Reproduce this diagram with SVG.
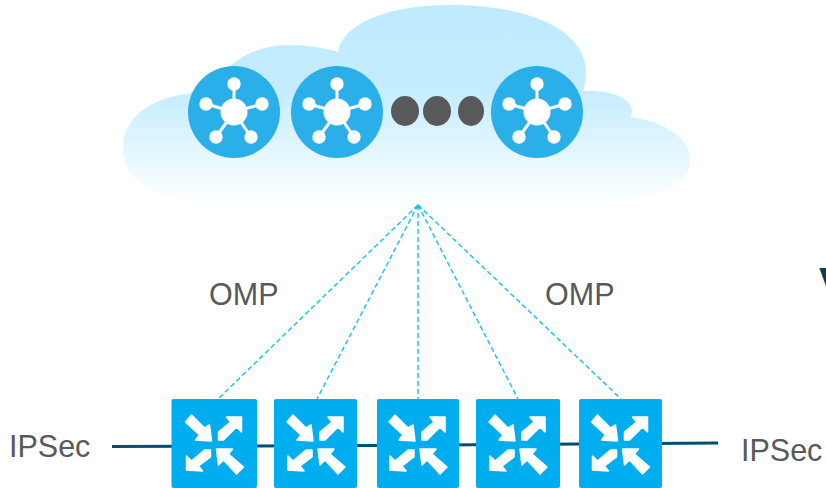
<svg xmlns="http://www.w3.org/2000/svg" width="826" height="488" viewBox="0 0 826 488">
<defs>
<linearGradient id="sky" gradientUnits="userSpaceOnUse" x1="0" y1="5" x2="0" y2="203"><stop offset="0" stop-color="#bfeafe"/><stop offset="0.42" stop-color="#c3ecff"/><stop offset="1" stop-color="#ffffff"/></linearGradient>
<g id="hub">
<circle r="46" fill="#2bafe8"/>
<g stroke="#fff" stroke-width="3"><line x2="0" y2="-28"/><line x2="-28" y2="-8"/><line x2="28" y2="-8"/><line x2="-18" y2="25"/><line x2="17" y2="25"/></g>
<g fill="#fff"><circle r="13.500"/><circle cy="-28" r="6.700"/><circle cx="-28" cy="-8" r="6.700"/><circle cx="28" cy="-8" r="6.700"/><circle cx="-18" cy="25" r="6.700"/><circle cx="17" cy="25" r="6.700"/></g>
</g>
<g id="arrows" fill="#fff" stroke="#fff" stroke-width="1.500" stroke-linejoin="round">
<path d="M-23-30L-10-17L-5-20L-3-4L-19-5L-15-10L-29-23Z"/>
<path d="M27-28L27-13L22-18L9-5L4-5L4-13L16-23L12-28Z"/>
<path d="M-28 25L-28 11L-23 16L-10 5L-4 5L-4 12L-16 21L-12 26Z"/>
<path d="M2 4L18 4L14 9L29 22L22 29L9 15L4 20Z"/>
</g>
<style>
.d{stroke:#0fc4f0;stroke-width:1.400;stroke-dasharray:5 3;fill:none}
.t{font-family:"Liberation Sans",Arial,sans-serif;font-size:30.500px;fill:#58595b}
.r{fill:#00aeef}
</style>
</defs>
<g id="cloud"><path fill="url(#sky)" d="M123 147C123 118 152 97 188 94L230 66C245 53 265 45 288 45C308 45 325 48 338 52C342 25 385 5 450 5C530 5 586 30 586 72C586 79 585 85 583 91C610 90 632 97 632 112L631 117C665 122 690 138 690 160C690 185 655 203 600 203L200 203C155 200 123 180 123 147Z"/></g>
<g id="hub1"><use href="#hub" x="234" y="112"/></g>
<g id="hub2"><use href="#hub" x="337" y="112"/></g>
<g id="hub3"><use href="#hub" x="537" y="112"/></g>
<g id="dots" fill="#58595b"><ellipse cx="405" cy="111" rx="14" ry="15"/><ellipse cx="437" cy="111" rx="14" ry="15"/><ellipse cx="471" cy="111" rx="13" ry="15"/></g>
<g id="connectors">
<path class="d" d="M418 205L218 399M418 205L317 399M418 205L418 399M418 205L518 399M418 205L621 399"/>
<path d="M418 204L421.500 208L414.500 208Z" fill="#0fc4f0"/>
<path d="M112 446.500L380 445.500L718 443" fill="none" stroke="#004f71" stroke-width="3"/>
</g>
<g id="r1"><rect class="r" x="171.500" y="399" width="85.500" height="89" rx="2"/><use href="#arrows" x="214.500" y="445"/></g>
<g id="r2"><rect class="r" x="274" y="399" width="83" height="89" rx="2"/><use href="#arrows" x="316" y="445"/></g>
<g id="r3"><rect class="r" x="377" y="399" width="82" height="89" rx="2"/><use href="#arrows" x="418" y="445"/></g>
<g id="r4"><rect class="r" x="476" y="399" width="84" height="89" rx="2"/><use href="#arrows" x="518" y="445"/></g>
<g id="r5"><rect class="r" x="579" y="399" width="83" height="89" rx="2"/><use href="#arrows" x="620.500" y="445"/></g>
<g id="labels">
<text class="t" x="209" y="305">OMP</text>
<text class="t" x="545" y="305">OMP</text>
<text class="t" x="9" y="457">IPSec</text>
<text class="t" x="741" y="461">IPSec</text>
<text x="819" y="300" style="font-family:'Liberation Sans',Arial,sans-serif;font-size:46px;font-weight:bold;fill:#003f5c">V</text>
</g>
</svg>
